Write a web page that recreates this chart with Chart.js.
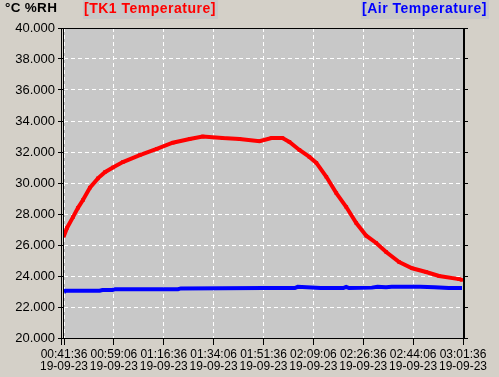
<!DOCTYPE html>
<html>
<head>
<meta charset="utf-8">
<script src="https://cdn.jsdelivr.net/npm/chart.js@4"></script>
<style>
  html, body { margin: 0; padding: 0; background: #d4d0c8; }
  #wrap { position: relative; width: 499px; height: 377px; }
  .lbl { position: absolute; top: 0; height: 19px; line-height: 20px; font: bold 14px "Liberation Sans", Arial, sans-serif; }
</style>
</head>
<body>
<div id="wrap">
  <canvas id="chart" width="499" height="377"></canvas>
  <div class="lbl" style="left:5px;color:#000;font-size:13.5px;letter-spacing:0.3px">°C %RH</div>
  <div class="lbl" style="left:83px;color:#ff0000;background:#c8c8c8;padding:0 2px 0 1px;letter-spacing:0.5px">[TK1 Temperature]</div>
  <div class="lbl" style="left:361px;color:#0000ff;background:#c8c8c8;padding:0 2px 0 1px;letter-spacing:0.5px">[Air Temperature]</div>
</div>
<script>
// minutes after 19-09-23 00:41:36
const startSec = 41 * 60 + 36
const startDate = '19-09-23'

const tk1Minutes = [0, 1.05, 3.15, 4.9, 6.65, 9.1, 11.9, 14.35, 17.15, 20.65, 26.6, 32.55, 38.15, 44.1, 48.65,
    55.65, 61.6, 68.6, 72.8, 76.65, 79.1, 82.6, 86.1, 88.55, 92.05, 95.55, 99.05, 102.55, 106.05, 109.55,
    113.05, 117.6, 122.15, 127.05, 131.6, 138.6, 139.65]
const tk1Values = [26.6, 27.1, 27.8, 28.4, 28.9, 29.7, 30.3, 30.7, 31.0, 31.35, 31.8, 32.2, 32.6, 32.84, 33.0,
    32.9, 32.84, 32.7, 32.9, 32.9, 32.65, 32.13, 31.68, 31.3, 30.4, 29.35, 28.45, 27.42, 26.6, 26.13,
    25.55, 24.9, 24.5, 24.26, 24.0, 23.8, 23.75]

const airMinutes = [0, 0.5, 12.5, 13.5, 17, 18, 40, 41, 70, 81, 82, 90, 98, 99, 100, 108, 110, 113, 115, 120, 125, 130, 135, 139.65]
const airValues = [22.95, 23.05, 23.05, 23.1, 23.1, 23.15, 23.15, 23.2, 23.22, 23.22, 23.3, 23.22, 23.22, 23.3, 23.22,
    23.25, 23.3, 23.28, 23.3, 23.3, 23.3, 23.28, 23.22, 23.22]

const yMin = 20, yMax = 40, yStep = 2
const xMin = 0, xMax = 140, xStep = 17.5

function timeLabel(min) {
    const s = Math.round(startSec + min * 60)
    const p = n => String(n).padStart(2, '0')
    return [p(Math.floor(s / 3600)) + ':' + p(Math.floor(s / 60) % 60) + ':' + p(s % 60), startDate]
}

function toXY(xs, ys) {
    return xs.map((x, i) => ({x: x, y: ys[i]}))
}

// double frame round the plot, like the old control
const frame = {
    id: 'frame',
    afterDraw(chart) {
        const a = chart.chartArea
        const ctx = chart.ctx
        ctx.save()
        ctx.strokeStyle = '#000'
        ctx.lineWidth = 1
        ctx.beginPath()
        ctx.moveTo(a.left - 2.5, a.top); ctx.lineTo(a.left - 2.5, a.bottom + 7)
        ctx.moveTo(a.left - 0.5, a.top); ctx.lineTo(a.left - 0.5, a.bottom + 1)
        ctx.moveTo(a.left, a.top + 0.5); ctx.lineTo(a.right + 3, a.top + 0.5)
        ctx.moveTo(a.left, a.bottom + 0.5); ctx.lineTo(a.right + 3, a.bottom + 0.5)
        ctx.stroke()
        ctx.lineWidth = 2
        ctx.beginPath()
        ctx.moveTo(a.right + 1, a.top); ctx.lineTo(a.right + 1, a.bottom + 1)
        ctx.stroke()
        ctx.restore()
    }
}

const plotBg = {
    id: 'plotBg',
    beforeDraw(chart) {
        const a = chart.chartArea
        chart.ctx.save()
        chart.ctx.fillStyle = '#c8c8c8'
        chart.ctx.fillRect(a.left, a.top, a.right - a.left, a.bottom - a.top)
        chart.ctx.restore()
    }
}

Chart.defaults.font.family = '"Liberation Sans", Arial, sans-serif'
Chart.defaults.font.size = 12
Chart.defaults.color = '#000'

new Chart(document.getElementById('chart').getContext('2d'), {
    type: 'line',
    data: {
        datasets: [
            {label: 'TK1 Temperature', data: toXY(tk1Minutes, tk1Values), borderColor: '#ff0000', backgroundColor: '#ff0000',
                borderWidth: 4, pointStyle: 'rect', pointRadius: 2.5, pointBorderWidth: 0, tension: 0},
            {label: 'Air Temperature', data: toXY(airMinutes, airValues), borderColor: '#0000ff', backgroundColor: '#0000ff',
                borderWidth: 4, pointRadius: 0, tension: 0}
        ]
    },
    options: {
        responsive: false,
        animation: false,
        layout: {padding: {top: 28, left: 0, right: 0, bottom: 0}},
        plugins: {legend: {display: false}, tooltip: {enabled: false}},
        scales: {
            x: {
                type: 'linear', min: xMin, max: xMax,
                afterBuildTicks: s => { s.ticks = []; for (let v = xMin; v <= xMax; v += xStep) s.ticks.push({value: v}) },
                ticks: {autoSkip: false, maxRotation: 0, padding: 3, callback: v => timeLabel(v), font: {size: 12, lineHeight: 1.05}},
                grid: {color: '#ffffff', tickColor: '#000', tickLength: 7, tickBorderDash: [0, 0]},
                border: {display: false, dash: [4, 3]},
                afterFit: s => { s.height = 39 }
            },
            y: {
                min: yMin, max: yMax,
                ticks: {stepSize: yStep, padding: 3, callback: v => v.toFixed(3), font: {size: 13}},
                grid: {color: '#ffffff', tickColor: '#000', tickLength: 6, tickBorderDash: [0, 0]},
                border: {display: false, dash: [4, 3]},
                afterFit: s => { s.width = 64 }
            },
            y2: {
                position: 'right', min: yMin, max: yMax,
                ticks: {stepSize: yStep, display: false},
                grid: {drawOnChartArea: false, tickColor: '#000', tickLength: 5},
                border: {display: false},
                afterFit: s => { s.width = 36 }
            }
        }
    },
    plugins: [plotBg, frame]
})
</script>
</body>
</html>
